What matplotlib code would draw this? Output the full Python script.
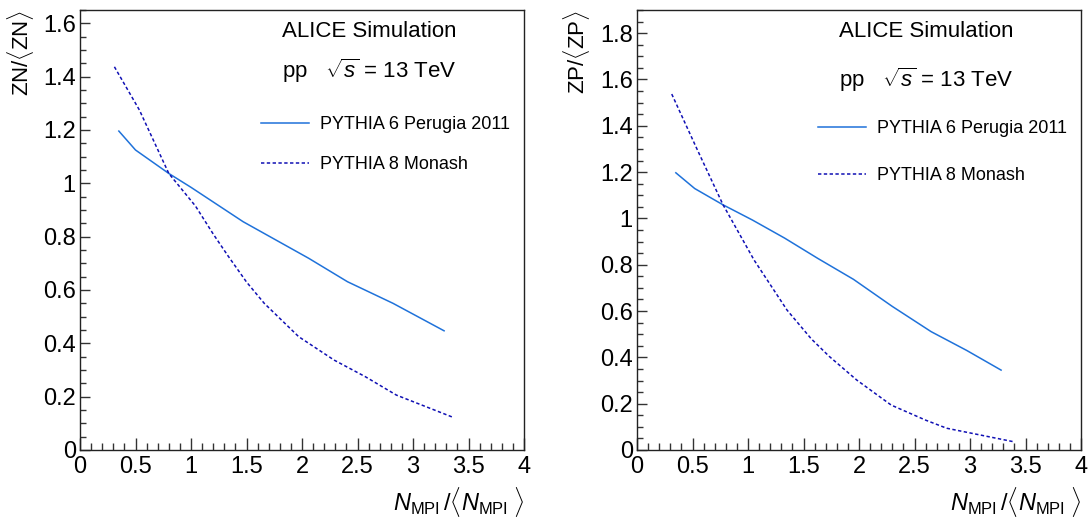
import matplotlib
matplotlib.use("Agg")
import matplotlib.pyplot as plt
from matplotlib.ticker import MultipleLocator, FormatStrFormatter

plt.rcParams['font.family'] = ['Liberation Sans', 'DejaVu Sans']
plt.rcParams['mathtext.fontset'] = 'custom'
plt.rcParams['mathtext.rm'] = 'Liberation Sans'
plt.rcParams['mathtext.it'] = 'Liberation Sans:italic'
plt.rcParams['mathtext.bf'] = 'Liberation Sans:bold'

# ---- data ----
zn_p6_x = [0.35, 0.50, 0.80, 1.00, 1.47, 2.06, 2.41, 2.82, 3.28]
zn_p6_y = [1.196, 1.125, 1.037, 0.985, 0.856, 0.719, 0.631, 0.550, 0.447]
zn_p8_x = [0.31, 0.535, 0.80, 1.04, 1.20, 1.33, 1.50, 1.66, 1.97, 2.29, 2.57, 2.85, 3.37]
zn_p8_y = [1.437, 1.275, 1.037, 0.915, 0.810, 0.730, 0.630, 0.550, 0.425, 0.337, 0.275, 0.206, 0.121]

zp_p6_x = [0.35, 0.52, 0.77, 1.04, 1.33, 1.63, 1.95, 2.30, 2.65, 2.97, 3.28]
zp_p6_y = [1.197, 1.129, 1.060, 0.993, 0.915, 0.827, 0.737, 0.620, 0.511, 0.430, 0.345]
zp_p8_x = [0.313, 0.54, 0.774, 1.055, 1.352, 1.57, 1.73, 1.98, 2.29, 2.60, 2.79, 3.39]
zp_p8_y = [1.537, 1.300, 1.060, 0.820, 0.604, 0.480, 0.405, 0.302, 0.194, 0.129, 0.094, 0.036]

labels = ["PYTHIA 6 Perugia 2011", "PYTHIA 8 Monash"]
ylabels = [r"ZN/$\langle$ZN$\rangle$", r"ZP/$\langle$ZP$\rangle$"]
xlabel = r"$N_{\rm MPI}\,/\langle N_{\rm MPI}\;\rangle$"
ymax = [1.65, 1.9]

c_p6 = '#1f72da'
c_p8 = '#1010b4'

W, H = 1090, 517
fig = plt.figure(figsize=(W / 100, H / 100), dpi=100)

panels = [
    (80, zn_p6_x, zn_p6_y, zn_p8_x, zn_p8_y, 0.845, 0.7585, 1.26),
    (637, zp_p6_x, zp_p6_y, zp_p8_x, zp_p8_y, 0.824, 0.7496, 1.67),
]
for i, (left, x6, y6, x8, y8, pp_y, leg_top, lsp) in enumerate(panels):
    ax = fig.add_axes([left / W, 67 / H, 444 / W, 440 / H])
    ax.plot(x6, y6, color=c_p6, lw=1.1, label=labels[0])
    ax.plot(x8, y8, color=c_p8, lw=1.1, ls=(0, (2.2, 1.6)), label=labels[1])
    ax.set_xlim(0, 4)
    ax.set_ylim(0, ymax[i])
    ax.xaxis.set_major_locator(MultipleLocator(0.5))
    ax.xaxis.set_minor_locator(MultipleLocator(0.1))
    ax.yaxis.set_major_locator(MultipleLocator(0.2))
    ax.yaxis.set_minor_locator(MultipleLocator(0.05))
    ax.xaxis.set_major_formatter(FormatStrFormatter('%g'))
    ax.yaxis.set_major_formatter(FormatStrFormatter('%g'))
    ax.tick_params(which='both', direction='in', top=False, right=False,
                   labelsize=17, color='#333333', width=1.0)
    ax.tick_params(axis='x', which='major', length=9, pad=4)
    ax.tick_params(axis='x', which='minor', length=4.8)
    ax.tick_params(axis='y', which='major', length=7, pad=3)
    ax.tick_params(axis='y', which='minor', length=4)
    for s in ax.spines.values():
        s.set_linewidth(1.0)
        s.set_color('#222222')
    ax.text(0.455, 0.938, "ALICE Simulation", transform=ax.transAxes,
            fontsize=16, ha='left', va='baseline')
    ax.text(0.455, pp_y, r"pp   $\sqrt{s}$ = 13 TeV", transform=ax.transAxes,
            fontsize=16, ha='left', va='baseline')
    ax.legend(loc='upper left', bbox_to_anchor=(0.407, leg_top), frameon=False,
              fontsize=13, handlelength=2.65, handletextpad=0.64,
              labelspacing=lsp, borderpad=0, borderaxespad=0)
    fig.text((left - 60) / W, 1 - 10 / H, ylabels[i], rotation=90,
             ha='center', va='top', fontsize=16)
    fig.text((left + 444) / W, 6 / H, xlabel, ha='right', va='baseline',
             fontsize=17)

fig.savefig("out.png", dpi=100)
